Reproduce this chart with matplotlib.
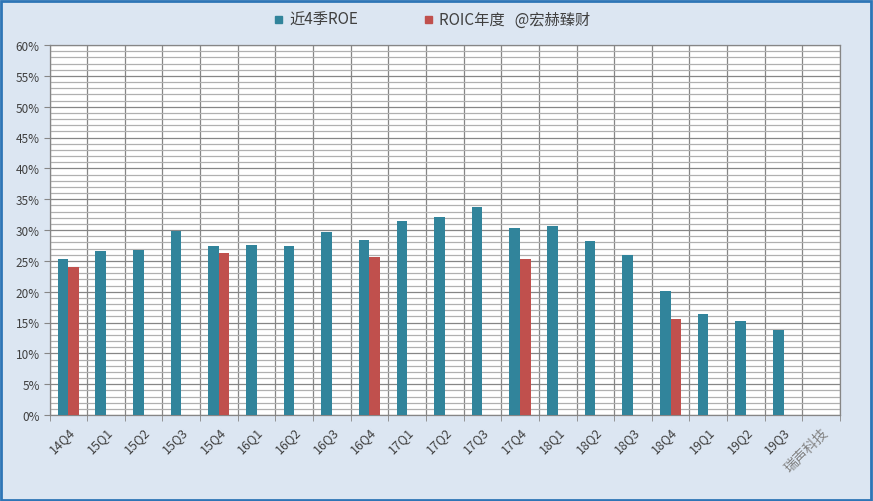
import matplotlib
matplotlib.use("Agg")
import matplotlib.pyplot as plt
from matplotlib.patches import Rectangle
from matplotlib.ticker import MultipleLocator, FuncFormatter
import numpy as np

plt.rcParams['font.family'] = ['Noto Sans CJK SC', 'DejaVu Sans']

categories = ["14Q4", "15Q1", "15Q2", "15Q3", "15Q4", "16Q1", "16Q2", "16Q3", "16Q4",
              "17Q1", "17Q2", "17Q3", "17Q4", "18Q1", "18Q2", "18Q3", "18Q4",
              "19Q1", "19Q2", "19Q3", "瑞声科技"]
roe_4q = [25.3, 26.6, 26.8, 29.9, 27.4, 27.6, 27.4, 29.7, 28.4,
          31.5, 32.1, 33.7, 30.3, 30.6, 28.2, 25.9, 20.1,
          16.4, 15.2, 13.8, np.nan]
roic_year = [24.0, np.nan, np.nan, np.nan, 26.3, np.nan, np.nan, np.nan, 25.6,
             np.nan, np.nan, np.nan, 25.3, np.nan, np.nan, np.nan, 15.6,
             np.nan, np.nan, np.nan, np.nan]
label_roe = "近4季ROE"
label_roic = "ROIC年度   @宏赫臻财"

teal = "#31849B"
red = "#C0504D"
bg = "#DCE6F2"

fig = plt.figure(figsize=(8.73, 5.02), dpi=100, facecolor=bg)
ax = fig.add_axes([49.5 / 873, 86 / 502, (840 - 49.5) / 873, (416 - 46) / 502])
ax.set_facecolor("white")

x = np.arange(len(categories))
w = 0.28
ax.bar(x - w / 2, roe_4q, width=w, color=teal, zorder=3, label=label_roe)
ax.bar(x + w / 2, roic_year, width=w, color=red, zorder=3, label=label_roic)

ax.set_xlim(-0.5, len(categories) - 0.5)
ax.set_ylim(0, 60)
ax.yaxis.set_major_locator(MultipleLocator(5))
ax.yaxis.set_minor_locator(MultipleLocator(1))
ax.yaxis.set_major_formatter(FuncFormatter(lambda v, p: f"{int(round(v))}%"))
ax.set_xticks(x)
ax.set_xticks(np.arange(-0.5, len(categories), 1.0), minor=True)

ax.grid(True, which='major', axis='y', color="#868686", linewidth=0.9, zorder=0)
ax.grid(True, which='minor', axis='y', color="#B0B0B0", linewidth=0.9, zorder=0)
ax.grid(True, which='minor', axis='x', color="#868686", linewidth=0.9, zorder=0)
ax.grid(False, which='major', axis='x')

for s in ax.spines.values():
    s.set_color("#868686")
    s.set_linewidth(0.9)

ax.tick_params(axis='y', which='major', length=4, color="#868686", labelsize=8.5,
               labelcolor="#404040", pad=3)
ax.tick_params(axis='y', which='minor', length=0)
ax.tick_params(axis='x', which='major', length=0, labelsize=9, labelcolor="#404040", pad=7)
ax.tick_params(axis='x', which='minor', length=4, color="#868686")

ax.set_xticklabels(categories, rotation=45, ha='right', rotation_mode='anchor')
lbls = ax.get_xticklabels()
lbls[-1].set_color("#808080")
lbls[-1].set_fontsize(10)

# legend (manual placement)
fig.patches.append(Rectangle((275 / 873, 1 - 24 / 502), 7 / 873, 7 / 502,
                             transform=fig.transFigure, color=teal))
fig.text(289 / 873, 1 - 20 / 502, label_roe, fontsize=11, color="#404040", va='center')
fig.patches.append(Rectangle((425 / 873, 1 - 24 / 502), 7 / 873, 7 / 502,
                             transform=fig.transFigure, color=red))
fig.text(439 / 873, 1 - 20 / 502, label_roic, fontsize=11, color="#404040", va='center')

# outer border
fig.patches.append(Rectangle((0.001, 0.002), 0.997, 0.995, transform=fig.transFigure,
                             fill=False, edgecolor="#2E75B6", linewidth=2))

fig.savefig("out.png", dpi=100, facecolor=bg)
